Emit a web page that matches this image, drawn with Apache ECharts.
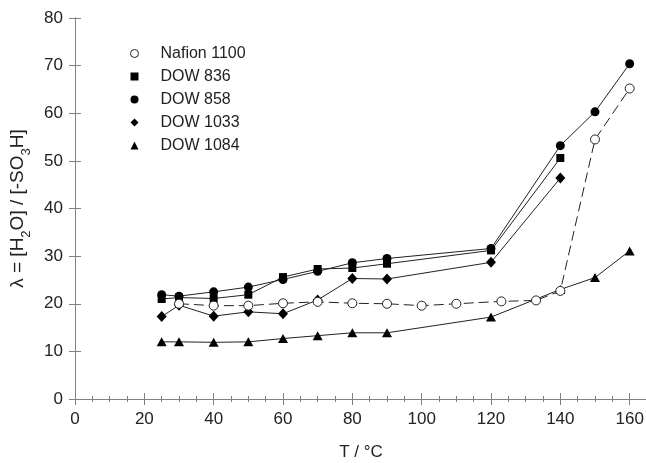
<!DOCTYPE html>
<html>
<head>
<meta charset="utf-8">
<script src="https://cdn.jsdelivr.net/npm/echarts@6/dist/echarts.min.js"></script>
<style>
html,body{margin:0;padding:0;background:#fff;}
#chart{width:646px;height:463px;}
</style>
</head>
<body>
<div id="chart"></div>
<script>
var seriesNames = ['Nafion 1100', 'DOW 836', 'DOW 858', 'DOW 1033', 'DOW 1084'];
var tempNafion = [30, 40, 50, 60, 70, 80, 90, 100, 110, 123, 133, 140, 150, 160];
var tempShort = [25, 30, 40, 50, 60, 70, 80, 90, 120, 140];
var tempLong = [25, 30, 40, 50, 60, 70, 80, 90, 120, 140, 150, 160];
var nafion1100 = [20.0, 19.6, 19.6, 20.1, 20.4, 20.1, 20.0, 19.6, 20.0, 20.5, 20.7, 22.7, 54.5, 65.2];
var dow836 = [21.0, 21.3, 21.1, 21.9, 25.6, 27.3, 27.5, 28.4, 31.2, 50.6];
var dow858 = [21.9, 21.6, 22.5, 23.5, 25.1, 26.8, 28.6, 29.5, 31.6, 53.2, 60.3, 70.4];
var dow1033 = [17.3, 19.7, 17.4, 18.3, 17.9, 20.8, 25.3, 25.2, 28.7, 46.4];
var dow1084 = [12.0, 12.0, 11.9, 12.0, 12.7, 13.3, 13.9, 13.9, 17.2, 23.0, 25.5, 31.1];

function pairs(xs, ys) { return xs.map(function (x, i) { return [x, ys[i]]; }); }

var FONT = "'Liberation Sans', Arial, sans-serif";
var AXIS_COLOR = '#808080';
var TEXT_COLOR = '#222';
var LINE_COLOR = '#222';

var chart = echarts.init(document.getElementById('chart'), null, {renderer: 'canvas'});

function mkSeries(name, data, symbol, size, fill, dashed, z) {
  return {
    name: name, type: 'line', data: data, symbol: symbol, symbolSize: size,
    showAllSymbol: true, z: z, animation: false,
    lineStyle: {color: LINE_COLOR, width: 1, type: dashed ? [10, 5] : 'solid'},
    itemStyle: {color: fill, borderColor: '#222', borderWidth: fill === '#fff' ? 1 : 0}
  };
}

var option = {
  animation: false,
  backgroundColor: '#fff',
  textStyle: {fontFamily: FONT},
  grid: {left: 75, right: -1, top: 18, bottom: 64, containLabel: false, outerBoundsMode: 'none'},
  legend: {
    orient: 'vertical', left: 125, top: 40, itemGap: 6, itemWidth: 8, itemHeight: 8,
    textStyle: {fontFamily: FONT, fontSize: 16, lineHeight: 17, color: TEXT_COLOR, padding: [0, 0, 0, 17]},
    data: [
      {name: 'Nafion 1100', icon: 'circle', itemStyle: {color: '#fff', borderColor: '#222', borderWidth: 1}},
      {name: 'DOW 836', icon: 'rect', itemStyle: {color: '#000'}},
      {name: 'DOW 858', icon: 'circle', itemStyle: {color: '#000'}},
      {name: 'DOW 1033', icon: 'diamond', itemStyle: {color: '#000'}},
      {name: 'DOW 1084', icon: 'triangle', itemStyle: {color: '#000'}}
    ]
  },
  xAxis: [{
    type: 'value', min: 0, max: 165, interval: 20, position: 'bottom',
    name: 'T / °C', nameLocation: 'middle', nameGap: 45,
    nameTextStyle: {fontFamily: FONT, fontSize: 17, color: TEXT_COLOR},
    axisLine: {show: true, lineStyle: {color: AXIS_COLOR, width: 1}},
    axisTick: {show: true, inside: true, length: 6, lineStyle: {color: AXIS_COLOR}},
    minorTick: {show: true, splitNumber: 4, length: 3, lineStyle: {color: AXIS_COLOR}},
    axisLabel: {fontFamily: FONT, fontSize: 17, color: TEXT_COLOR, margin: 12,
      formatter: function (v) { return v > 160 ? '' : v; }},
    splitLine: {show: false}
  }, {
    type: 'value', min: 0, max: 165, interval: 20, position: 'top',
    axisLine: {show: true, lineStyle: {color: AXIS_COLOR, width: 1}},
    axisTick: {show: true, inside: true, length: 6, lineStyle: {color: AXIS_COLOR}},
    minorTick: {show: true, splitNumber: 4, length: 3, lineStyle: {color: AXIS_COLOR}},
    axisLabel: {show: false}, splitLine: {show: false}
  }],
  yAxis: [{
    type: 'value', min: 0, max: 80, interval: 10, position: 'left',
    name: '{n|λ = [H}{s|2}{n|O] / [-SO}{s|3}{n|H]}', nameLocation: 'middle', nameGap: 42, nameRotate: 90,
    nameTextStyle: {
      fontFamily: FONT, fontSize: 19, color: TEXT_COLOR,
      rich: {
        n: {fontFamily: FONT, fontSize: 19, color: TEXT_COLOR, lineHeight: 22},
        s: {fontFamily: FONT, fontSize: 13, color: TEXT_COLOR, lineHeight: 22, verticalAlign: 'bottom', padding: [0, 0, -4, 0]}
      }
    },
    axisLine: {show: true, lineStyle: {color: AXIS_COLOR, width: 1}},
    axisTick: {show: true, inside: true, length: 6, lineStyle: {color: AXIS_COLOR}},
    axisLabel: {fontFamily: FONT, fontSize: 17, color: TEXT_COLOR, margin: 12},
    splitLine: {show: false}
  }, {
    type: 'value', min: 0, max: 80, interval: 10, position: 'right',
    axisLine: {show: true, lineStyle: {color: AXIS_COLOR, width: 1}},
    axisTick: {show: true, inside: true, length: 6, lineStyle: {color: AXIS_COLOR}},
    axisLabel: {show: false}, splitLine: {show: false}
  }],
  series: [
    mkSeries('DOW 836', pairs(tempShort, dow836), 'rect', 8, '#000', false, 2),
    mkSeries('DOW 858', pairs(tempLong, dow858), 'circle', 9, '#000', false, 3),
    mkSeries('DOW 1033', pairs(tempShort, dow1033), 'diamond', [10, 11], '#000', false, 2),
    mkSeries('DOW 1084', pairs(tempLong, dow1084), 'triangle', [10, 9], '#000', false, 2),
    mkSeries('Nafion 1100', pairs(tempNafion, nafion1100), 'circle', 9, '#fff', true, 4)
  ]
};
chart.setOption(option);
</script>
</body>
</html>
